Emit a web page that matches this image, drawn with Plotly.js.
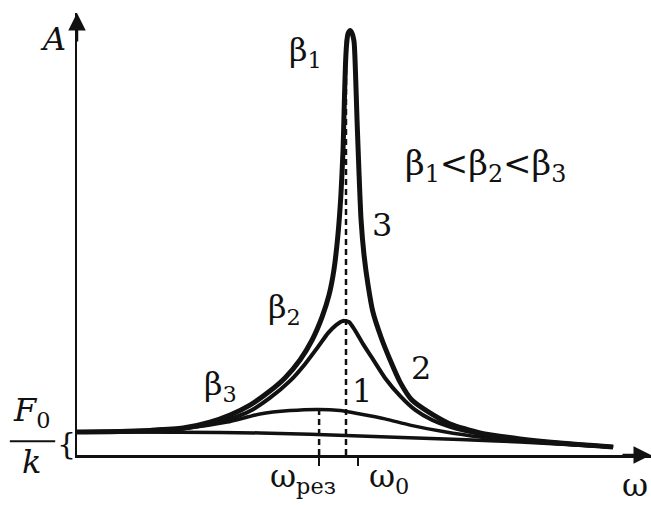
<!DOCTYPE html>
<html>
<head>
<meta charset="utf-8">
<script src="https://cdn.plot.ly/plotly-3.0.1.min.js"></script>
<style>
  html, body { margin: 0; padding: 0; background: #fff; }
  #chart { width: 651px; height: 505px; }
</style>
</head>
<body>
<div id="chart"></div>
<script>
// Forced oscillations: amplitude A against driving frequency ω
// (ω in units of ω0, A in units of F0/k), three damping levels β1 < β2 < β3.

// curve 3 — weakest damping β1
const omega3 = [0, 0.160, 0.271, 0.394, 0.494, 0.569, 0.643, 0.717, 0.773, 0.829, 0.874, 0.911, 0.937, 0.955, 0.970, 0.981, 0.989, 0.994, 0.998, 1.002, 1.007, 1.015, 1.022, 1.030, 1.035, 1.041, 1.048, 1.056, 1.067, 1.082, 1.100, 1.130, 1.164, 1.201, 1.245, 1.312, 1.387, 1.498, 1.647, 1.796, 1.993];
const amp3   = [1.00, 1.02, 1.07, 1.17, 1.43, 1.74, 2.17, 2.78, 3.35, 4.13, 5.00, 6.00, 6.96, 8.04, 9.57, 11.30, 13.26, 15.43, 16.96, 17.83, 18.30, 18.46, 18.35, 17.96, 16.74, 14.57, 12.39, 10.22, 8.70, 7.39, 6.22, 5.13, 4.13, 3.17, 2.39, 1.83, 1.35, 0.96, 0.70, 0.52, 0.35];

// curve 2 — damping β2
const omega2 = [0, 0.271, 0.394, 0.494, 0.569, 0.643, 0.717, 0.792, 0.848, 0.896, 0.933, 0.963, 0.989, 1.011, 1.033, 1.063, 1.097, 1.145, 1.201, 1.257, 1.320, 1.387, 1.498, 1.647, 1.796, 1.993];
const amp2   = [1.00, 1.07, 1.15, 1.35, 1.57, 1.91, 2.48, 3.22, 3.96, 4.70, 5.30, 5.65, 5.83, 5.78, 5.43, 4.83, 4.22, 3.35, 2.57, 1.96, 1.52, 1.22, 0.91, 0.67, 0.52, 0.35];

// curve 1 — strongest damping β3
const omega1 = [0, 0.271, 0.401, 0.558, 0.680, 0.792, 0.896, 0.978, 1.052, 1.145, 1.238, 1.361, 1.498, 1.647, 1.796, 1.993];
const amp1   = [1.00, 1.04, 1.15, 1.43, 1.78, 1.93, 1.98, 1.93, 1.78, 1.57, 1.30, 1.02, 0.78, 0.61, 0.48, 0.35];

// lowest, almost flat line starting at F0/k
const omegaBase = [0, 0.383, 0.680, 1.052, 1.424, 1.647, 1.993];
const ampBase   = [1.00, 0.99, 0.96, 0.83, 0.67, 0.57, 0.35];

// marked frequencies
const omega0 = 1.0;          // natural frequency (dashed line)
const omegaRes = 0.90;       // resonance frequency of curve 1 (dashed line)
const tickPositions = [0.90, 1.045];

const ink = '#111';
const serif = 'DejaVu Serif';

const curveStyle = (w) => ({ color: ink, width: w, shape: 'spline', smoothing: 0.6 });

const traces = [
  { x: omegaBase, y: ampBase, mode: 'lines', line: curveStyle(3.5), hoverinfo: 'skip' },
  { x: omega1, y: amp1, mode: 'lines', line: curveStyle(3.5), hoverinfo: 'skip' },
  { x: omega2, y: amp2, mode: 'lines', line: curveStyle(4), hoverinfo: 'skip' },
  { x: omega3, y: amp3, mode: 'lines', line: curveStyle(5), hoverinfo: 'skip' },
  // dashed drop lines
  { x: [omega0, omega0], y: [0, Math.max(...amp3) - 0.4], mode: 'lines',
    line: { color: ink, width: 2.5, dash: '6px,4px' }, hoverinfo: 'skip' },
  { x: [omegaRes, omegaRes], y: [0, Math.max(...amp1)], mode: 'lines',
    line: { color: ink, width: 2.5, dash: '6px,4px' }, hoverinfo: 'skip' }
];

const xMax = 574 / 269;
const yMax = 442 / 23;

const font = (size) => ({ family: serif, size: size, color: ink });

// label inside the plotting area, data coordinates
const txt = (x, y, text, extra) => Object.assign({
  x: x, y: y, xref: 'x', yref: 'y', text: text, showarrow: false, font: font(32),
  xanchor: 'center', yanchor: 'middle'
}, extra || {});

// label in the margins, paper coordinates
const ptxt = (x, y, text, extra) => Object.assign({
  x: x, y: y, xref: 'paper', yref: 'paper', text: text, showarrow: false, font: font(32),
  xanchor: 'center', yanchor: 'middle'
}, extra || {});

const layout = {
  width: 651, height: 505,
  margin: { l: 77, r: 0, t: 13, b: 50 },
  paper_bgcolor: '#fff', plot_bgcolor: '#fff',
  font: { family: serif, color: ink },
  showlegend: false,
  xaxis: {
    range: [0, xMax], showgrid: false, zeroline: false,
    showline: true, linecolor: ink, linewidth: 2.5,
    ticks: 'outside', ticklen: 8, tickwidth: 2.5, tickcolor: ink,
    tickvals: tickPositions, showticklabels: false, fixedrange: true
  },
  yaxis: {
    range: [0, yMax], showgrid: false, zeroline: false,
    showline: true, linecolor: ink, linewidth: 2.5,
    ticks: '', showticklabels: false, fixedrange: true
  },
  annotations: [
    // axis arrowheads
    { x: 0, y: yMax, xref: 'x', yref: 'y', text: '', showarrow: true,
      ax: 0, ay: 30, arrowhead: 2, arrowsize: 1.4, arrowwidth: 2.5, arrowcolor: ink },
    { x: xMax, y: 0, xref: 'x', yref: 'y', text: '', showarrow: true,
      ax: -30, ay: 0, arrowhead: 2, arrowsize: 1.4, arrowwidth: 2.5, arrowcolor: ink },
    // axis names
    ptxt(-0.042, 0.941, '<i>A</i>'),
    ptxt(0.972, -0.068, 'ω'),
    // F0/k level
    ptxt(-0.080, 0.098, '<i>F</i><sub>0</sub>'),
    ptxt(-0.080, -0.016, '<i>k</i>'),
    ptxt(-0.019, 0.027, '{', { font: font(30) }),
    // frequency labels
    ptxt(0.333, -0.053, 'ω<sub>рез</sub>', { xanchor: 'left' }),
    ptxt(0.505, -0.053, 'ω<sub>0</sub>', { xanchor: 'left' }),
    // damping labels
    txt(0.848, 17.52, 'β<sub>1</sub>'),
    txt(0.773, 6.35, 'β<sub>2</sub>'),
    txt(0.532, 3.0, 'β<sub>3</sub>'),
    txt(1.520, 12.57, 'β<sub>1</sub>&lt;β<sub>2</sub>&lt;β<sub>3</sub>', { font: font(34) }),
    // curve numbers
    txt(1.134, 10.0, '3'),
    txt(1.279, 3.78, '2'),
    txt(1.059, 2.78, '1')
  ],
  shapes: [
    // fraction bar of F0/k
    { type: 'line', xref: 'paper', yref: 'paper', x0: -0.117, x1: -0.038, y0: 0.031, y1: 0.031,
      line: { color: ink, width: 2 } }
  ]
};

Plotly.newPlot('chart', traces, layout, { staticPlot: true, displayModeBar: false });
</script>
</body>
</html>
